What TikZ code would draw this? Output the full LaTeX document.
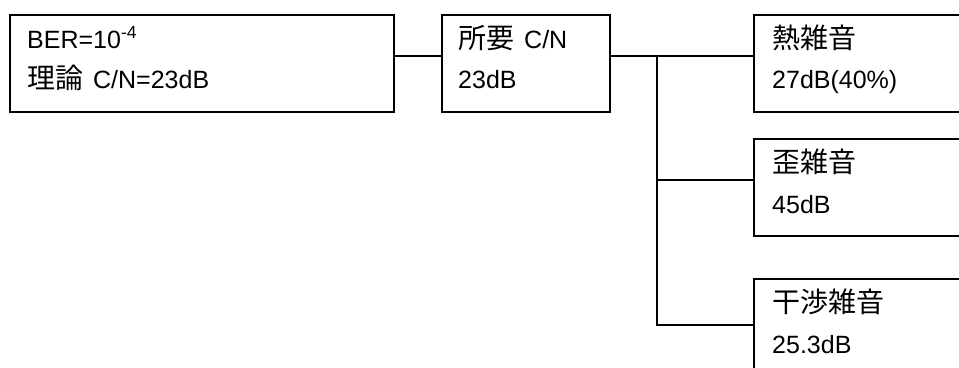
\documentclass[tikz,border=0pt]{standalone}
\usepackage{fontspec}
\setmainfont{Liberation Sans}
\newfontfamily\cjk{Noto Sans CJK JP}[Scale=1.12]
\usetikzlibrary{calc}
\tikzset{
  box/.style={draw, line width=1.6pt, inner sep=0pt, minimum width=#1, minimum height=97, anchor=north west},
  lbl/.style={inner sep=0pt, anchor=base west, font=\fontsize{25}{29}\selectfont},
  wire/.style={line width=1.6pt}
}
\begin{document}
\begin{tikzpicture}[x=1pt,y=-1pt]
\useasboundingbox (0,0) rectangle (959,367);
\clip (0,0) rectangle (959,367);
\node[box=384] (b1) at (9,14) {};
\node[box=168] (b2) at (441,14) {};
\node[box=260] (b3) at (753,14) {};
\node[box=260] (b4) at (753,138) {};
\node[box=260] (b5) at (753,278) {};
\node[lbl] (t1a) at ($(b1.north west)+(18,34)$) {BER=10\textsuperscript{-4}};
\node[lbl] (t1b) at ($(b1.north west)+(18,74)$) {{\cjk 理論}\hspace{10pt}C/N=23dB};
\node[lbl] (t2a) at ($(b2.north west)+(17,34)$) {{\cjk 所要}\hspace{10pt}C/N};
\node[lbl] (t2b) at ($(b2.north west)+(17,74)$) {23dB};
\node[lbl] (t3a) at ($(b3.north west)+(19,34)$) {\cjk 熱雑音};
\node[lbl] (t3b) at ($(b3.north west)+(19,74)$) {27dB(40\%)};
\node[lbl] (t4a) at ($(b4.north west)+(19,34)$) {\cjk 歪雑音};
\node[lbl] (t4b) at ($(b4.north west)+(19,75)$) {45dB};
\node[lbl] (t5a) at ($(b5.north west)+(19,34)$) {\cjk 干渉雑音};
\node[lbl] (t5b) at ($(b5.north west)+(19,75)$) {25.3dB};
\coordinate (tr) at (657,56);
\coordinate (j3) at ($(b3.north west)+(0,42)$);
\coordinate (j4) at ($(b4.north west)+(0,42)$);
\coordinate (j5) at ($(b5.north west)+(0,47)$);
\draw[wire] ($(b1.north east)+(0,42)$) -- ($(b2.north west)+(0,42)$);
\draw[wire] ($(b2.north east)+(0,42)$) -- (j3);
\draw[wire] (tr) -- (tr |- j5) -- (j5);
\draw[wire] (tr |- j4) -- (j4);
\end{tikzpicture}
\end{document}
